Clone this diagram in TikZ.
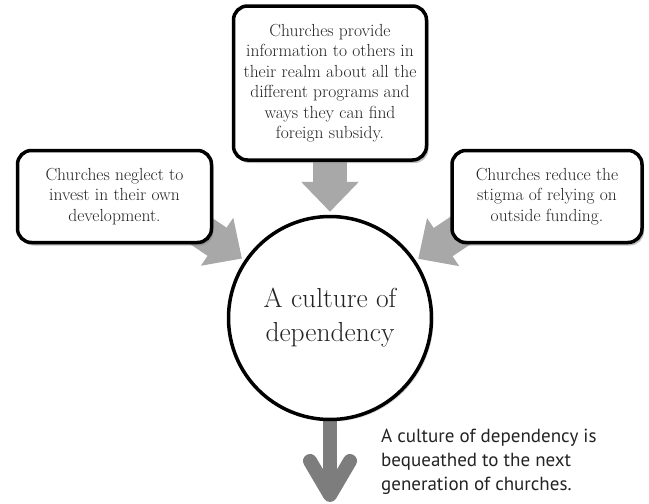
\documentclass[tikz,border=0pt]{standalone}
\usepackage{fontspec}
\setsansfont{PT Sans}
\usetikzlibrary{arrows.meta,shadows}
\pgfdeclarelayer{back}
\pgfsetlayers{back,main}
\definecolor{lightarrow}{RGB}{168,168,168}
\definecolor{darkarrow}{RGB}{125,125,125}
\definecolor{ink}{RGB}{35,35,35}
\begin{document}
\begin{tikzpicture}[x=1pt,y=-1pt,
	box/.style={draw,line width=3.5pt,rounded corners=14pt,fill=white,align=center,inner sep=0pt,text=ink,
		font=\fontsize{17.5}{20.5}\selectfont,drop shadow={opacity=0.5,shadow xshift=2pt,shadow yshift=-3pt}},
	feed/.style={line width=34pt,lightarrow,-{Triangle[width=56pt,length=30pt]},shorten >=3pt},
	result/.style={line width=14pt,darkarrow,-{Straight Barb[width=40pt,length=34pt,round]}}]
	\useasboundingbox (0,0) rectangle (649,504);
	% causes
	\node[box,minimum width=194pt,minimum height=92pt] (leftbox) at (114.5,196.5) {Churches neglect to\\invest in their own\\development.};
	\node[box,minimum width=193pt,minimum height=154pt] (topbox) at (330,83) {Churches provide\\information to others in\\their realm about all the\\different programs and\\ways they can find\\foreign subsidy.};
	\node[box,minimum width=190pt,minimum height=92pt] (rightbox) at (547,196.5) {Churches reduce the\\stigma of relying on\\outside funding.};
	% centre
	\node[circle,draw,line width=3.5pt,fill=white,minimum size=203pt,align=center,text=ink,font=\fontsize{27.5}{34}\selectfont,
		drop shadow={opacity=0.3,shadow xshift=2pt,shadow yshift=-2pt}] (culture) at (330,318) {A culture of\\dependency};
	% outcome
	\node[anchor=north west,align=left,inner sep=0pt,text=ink,font=\sffamily\fontsize{19}{24}\selectfont] (outcome) at (381,429) {A culture of dependency is\\bequeathed to the next\\generation of churches.};
	\coordinate (tip) at (330,502);
	\begin{pgfonlayer}{back}
		\draw[feed] (topbox) -- (culture);
		\draw[feed] ([yshift=24pt]leftbox.center) -- (culture);
		\draw[feed] ([yshift=24pt]rightbox.center) -- (culture);
		\draw[result] (culture) -- (tip);
	\end{pgfonlayer}
\end{tikzpicture}
\end{document}
